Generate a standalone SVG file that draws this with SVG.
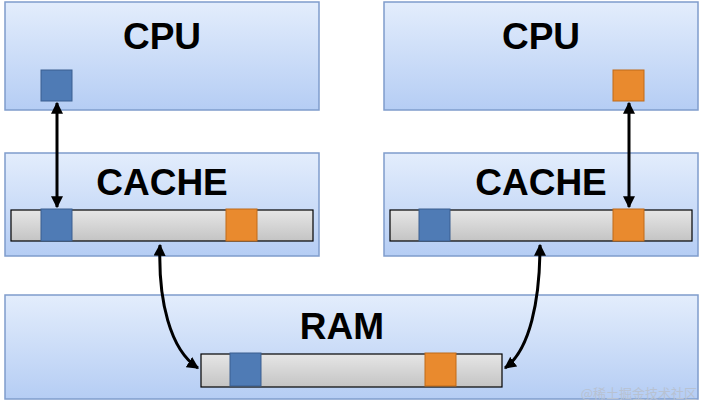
<svg xmlns="http://www.w3.org/2000/svg" width="703" height="407" viewBox="0 0 703 407">
<defs>
<linearGradient id="bg" x1="0" y1="0" x2="0" y2="1"><stop offset="0" stop-color="#e3edfc"/><stop offset="1" stop-color="#b5cdf4"/></linearGradient>
<linearGradient id="bar" x1="0" y1="0" x2="0" y2="1"><stop offset="0" stop-color="#e6e6e6"/><stop offset="1" stop-color="#c4c4c4"/></linearGradient>
<marker id="ah" viewBox="0 0 10 10" refX="9" refY="5" markerWidth="4" markerHeight="4" orient="auto-start-reverse"><path d="M0,0 L10,5 L0,10 z" fill="#000"/></marker>
<style>
.box{fill:url(#bg);stroke:#7f9ccc;stroke-width:1.5}
.bar{fill:url(#bar);stroke:#000;stroke-width:1.2}
.b{fill:#4f7bb5;stroke:#3b5f90;stroke-width:1}
.o{fill:#e98a2e;stroke:#c06a18;stroke-width:1}
.t{font-family:"Liberation Sans",Arial,sans-serif;font-weight:bold;font-size:37px;text-anchor:middle;fill:#000}
.c{fill:none;stroke:#000;stroke-width:3;marker-start:url(#ah);marker-end:url(#ah)}
</style>
</defs>
<rect width="703" height="407" fill="#fff"/>
<g id="cpu1"><rect class="box" x="5" y="2" width="314" height="108"/><text class="t" x="162" y="49">CPU</text><rect class="b" x="41" y="70" width="31" height="31"/></g>
<g id="cpu2"><rect class="box" x="384" y="2" width="314" height="108"/><text class="t" x="541" y="49">CPU</text><rect class="o" x="613" y="70" width="31" height="31"/></g>
<g id="cache1"><rect class="box" x="5" y="153" width="314" height="103"/><text class="t" x="162" y="195">CACHE</text><rect class="bar" x="11" y="210" width="302" height="31"/><rect class="b" x="41" y="209" width="31" height="32"/><rect class="o" x="226" y="209" width="31" height="32"/></g>
<g id="cache2"><rect class="box" x="384" y="153" width="314" height="103"/><text class="t" x="541" y="195">CACHE</text><rect class="bar" x="390" y="210" width="302" height="31"/><rect class="b" x="419" y="209" width="31" height="32"/><rect class="o" x="613" y="209" width="31" height="32"/></g>
<g id="ram"><rect class="box" x="5" y="295" width="693" height="104"/><text class="t" x="342" y="339">RAM</text><rect class="bar" x="201" y="354" width="301" height="33"/><rect class="b" x="230" y="353" width="31" height="33"/><rect class="o" x="425" y="353" width="31" height="33"/></g>
<g id="connectors">
<path class="c" d="M57,103 L57,207"/>
<path class="c" d="M629,103 L629,207"/>
<path class="c" d="M160,245 C158,300 170,350 198,368"/>
<path class="c" d="M540,245 C540,300 530,350 505,368"/>
</g>
<text x="697" y="398" font-family="'Noto Sans CJK SC',sans-serif" font-size="13" fill="#b8c2d2" text-anchor="end">@稀土掘金技术社区</text>
</svg>
